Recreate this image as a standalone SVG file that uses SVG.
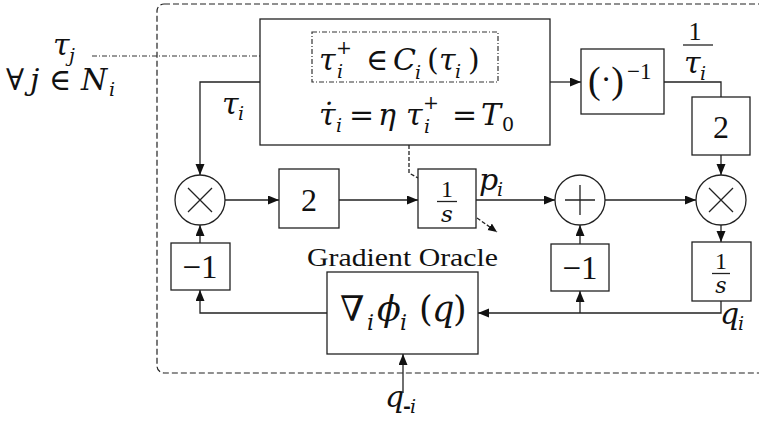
<svg xmlns="http://www.w3.org/2000/svg" width="759" height="426" viewBox="0 0 759 426">
<style>
.ln{fill:none;stroke:#222;stroke-width:1.3}
.bx{fill:#fff;stroke:#222;stroke-width:1.3}
.dd{fill:none;stroke:#333;stroke-width:1.2;stroke-dasharray:5 2 1 2}
.ds{fill:none;stroke:#222;stroke-width:1.3;stroke-dasharray:4 2}
.fr{fill:none;stroke:#222;stroke-width:1.2;stroke-dasharray:6 3}
text{font-family:"Liberation Serif","DejaVu Serif",serif;fill:#111}
.mt{font-family:"DejaVu Serif","Liberation Serif",serif}
.it{font-style:italic}
.m{font-size:30px}
.s{font-size:19px}
.n{font-style:normal}
</style>
<defs>
<marker id="ah" markerUnits="userSpaceOnUse" markerWidth="12" markerHeight="10" refX="11" refY="4.5" orient="auto">
<path d="M0,0 L11,4.5 L0,9 z" fill="#111"/>
</marker>
<marker id="ahs" markerUnits="userSpaceOnUse" markerWidth="10" markerHeight="9" refX="9" refY="4" orient="auto">
<path d="M0,0 L9,4 L0,8 z" fill="#111"/>
</marker>
</defs>

<rect class="fr" x="157" y="4" width="620" height="369" rx="7"/>

<g id="connectors">
<path class="dd" d="M92,56 H301"/>
<path class="ln" d="M300,56 H312" marker-end="url(#ah)"/>
<path class="ln" d="M260,82 H200 V175" marker-end="url(#ah)"/>
<path class="ln" d="M225,200 H279" marker-end="url(#ah)"/>
<path class="ln" d="M339,200 H418" marker-end="url(#ah)"/>
<path class="ds" d="M409,145 V173 L418,178"/>
<path class="ds" d="M477,218 L497,232" marker-end="url(#ahs)"/>
<path class="ln" d="M476,200 H555" marker-end="url(#ah)"/>
<path class="ln" d="M605,200 H696" marker-end="url(#ah)"/>
<path class="ln" d="M550,82 H581" marker-end="url(#ah)"/>
<path class="ln" d="M664,82 H721 V97"/>
<path class="ln" d="M721,155 V175" marker-end="url(#ah)"/>
<path class="ln" d="M721,225 V242" marker-end="url(#ah)"/>
<path class="ln" d="M721,301 V313 H478" marker-end="url(#ah)"/>
<path class="ln" d="M580,313 V291" marker-end="url(#ah)"/>
<path class="ln" d="M580,244 V225" marker-end="url(#ah)"/>
<path class="ln" d="M327,313 H200 V290" marker-end="url(#ah)"/>
<path class="ln" d="M200,243 V225" marker-end="url(#ah)"/>
<path class="ln" d="M403,393 V354" marker-end="url(#ah)"/>
</g>

<g id="input-tauj">
<text class="mt m it" x="53" y="55">τ<tspan class="s" x="69" y="62">j</tspan></text>
<text class="mt m"><tspan x="6" y="90">∀</tspan><tspan class="it" x="30" y="90">j</tspan><tspan x="49" y="90">∈</tspan><tspan class="it" x="81" y="90">N</tspan><tspan class="s it" x="109" y="96">i</tspan></text>
</g>

<g id="clock-box">
<rect class="bx" x="260" y="19" width="290" height="126"/>
<rect class="dd" x="312" y="32" width="186" height="50"/>
<text class="mt m"><tspan class="it" x="319" y="70">τ</tspan><tspan class="s" x="336" y="54">+</tspan><tspan class="s it" x="337" y="78">i</tspan><tspan x="366" y="70">∈</tspan><tspan class="it" x="393" y="70">C</tspan><tspan class="s it" x="415" y="79">i</tspan><tspan x="427" y="70">(</tspan><tspan class="it" x="439" y="70">τ</tspan><tspan class="s it" x="455" y="78">i</tspan><tspan x="468" y="70">)</tspan></text>
<text class="mt m"><tspan class="it" x="319" y="125">τ̇</tspan><tspan class="s it" x="336" y="132">i</tspan><tspan x="349" y="125">=</tspan><tspan class="it" x="378" y="125">η</tspan><tspan class="it" x="406" y="125">τ</tspan><tspan class="s" x="423" y="109">+</tspan><tspan class="s it" x="424" y="133">i</tspan><tspan x="452" y="125">=</tspan><tspan class="it" x="481" y="125">T</tspan><tspan class="s" x="502" y="131">0</tspan></text>
</g>

<g id="label-taui">
<text class="mt m it" x="222" y="114">τ<tspan class="s" x="238" y="120">i</tspan></text>
</g>

<g id="mult1">
<circle class="bx" cx="200" cy="200" r="25"/>
<path class="ln" d="M188,188 L212,212 M212,188 L188,212"/>
</g>

<g id="gain2">
<rect class="bx" x="279" y="169" width="60" height="59"/>
<text x="309" y="211" text-anchor="middle" style="font-size:32px">2</text>
</g>

<g id="integrator-p">
<rect class="bx" x="418" y="169" width="58" height="59"/>
<text x="447" y="197" text-anchor="middle" style="font-size:24px">1</text>
<path class="ln" d="M437,201.5 H457"/>
<text class="mt it" x="447" y="222" text-anchor="middle" style="font-size:23px">s</text>
<text class="mt m it" x="479" y="190">p<tspan class="s" x="497" y="196">i</tspan></text>
</g>

<g id="sum">
<circle class="bx" cx="580" cy="200" r="25"/>
<path class="ln" d="M565,200 H595 M580,185 V215"/>
</g>

<g id="mult2">
<circle class="bx" cx="721" cy="200" r="25"/>
<path class="ln" d="M709,188 L733,212 M733,188 L709,212"/>
</g>

<g id="inverse">
<rect class="bx" x="581" y="49" width="83" height="65"/>
<text style="font-size:38px" x="588" y="93">(<tspan style="font-size:32px" dy="-3">·</tspan><tspan dy="3">)</tspan><tspan style="font-size:23px" dx="3" dy="-14">−1</tspan></text>
</g>

<g id="label-inv-tau">
<text x="695" y="40" text-anchor="middle" style="font-size:26px">1</text>
<path class="ln" d="M683,45 H713"/>
<text class="mt m it" x="684" y="73">τ<tspan class="s" x="700" y="80">i</tspan></text>
</g>

<g id="gain2b">
<rect class="bx" x="692" y="97" width="58" height="58"/>
<text x="721" y="138" text-anchor="middle" style="font-size:32px">2</text>
</g>

<g id="integrator-q">
<rect class="bx" x="692" y="242" width="59" height="59"/>
<text x="721" y="269" text-anchor="middle" style="font-size:24px">1</text>
<path class="ln" d="M712,273.5 H730"/>
<text class="mt it" x="721" y="293" text-anchor="middle" style="font-size:22px">s</text>
<text class="mt m it" x="720" y="324">q<tspan class="s" x="738" y="330">i</tspan></text>
</g>

<g id="neg1-left">
<rect class="bx" x="171" y="243" width="59" height="47"/>
<text x="200" y="278" text-anchor="middle" style="font-size:33px">−1</text>
</g>

<g id="neg1-right">
<rect class="bx" x="551" y="244" width="58" height="47"/>
<text x="580" y="279" text-anchor="middle" style="font-size:33px">−1</text>
</g>

<g id="gradient-oracle">
<text x="307" y="266" style="font-size:26px" textLength="191" lengthAdjust="spacingAndGlyphs">Gradient Oracle</text>
<rect class="bx" x="327" y="272" width="151" height="82"/>
<text class="mt" style="font-size:35px"><tspan x="340" y="321">∇</tspan><tspan class="it" x="367" y="330" style="font-size:22px">i</tspan><tspan class="it" x="377" y="321">ϕ</tspan><tspan class="it" x="400" y="330" style="font-size:22px">i</tspan><tspan x="419" y="321">(</tspan><tspan class="it" x="432" y="321">q</tspan><tspan x="453" y="321">)</tspan></text>
</g>

<g id="input-q-i">
<text class="mt m it" x="385" y="407">q<tspan class="s n" style="font-weight:bold" x="403" y="413">-</tspan><tspan class="s" x="410" y="413">i</tspan></text>
</g>
</svg>
